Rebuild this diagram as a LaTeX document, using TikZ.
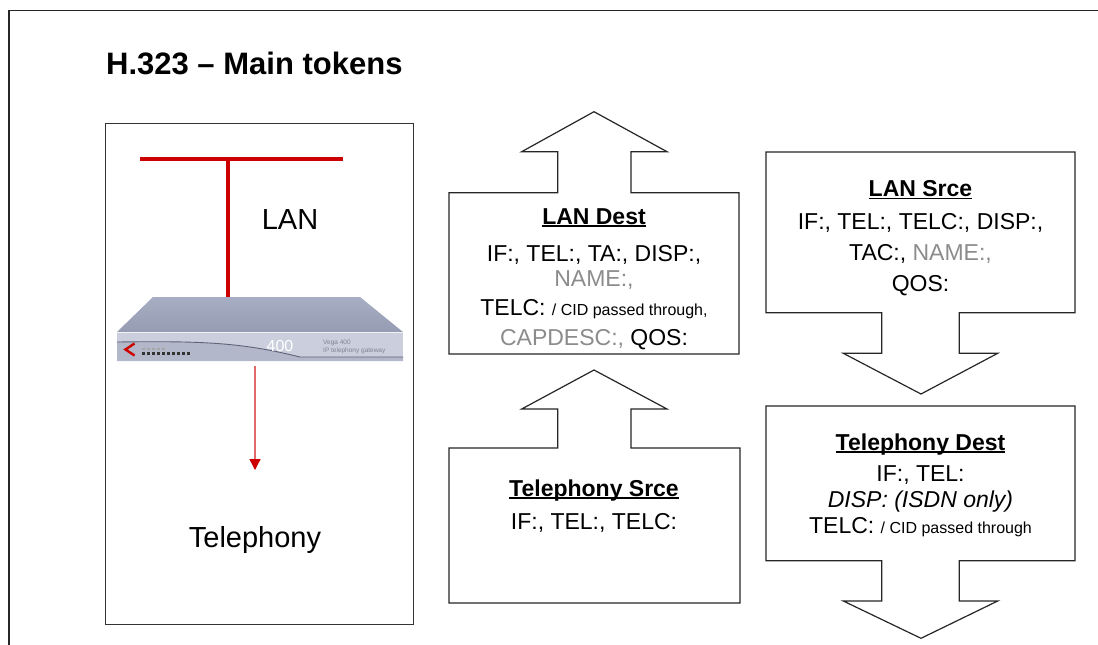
\documentclass[tikz,border=0pt]{standalone}
\usepackage{fontspec}
\setmainfont{Liberation Sans}
\usetikzlibrary{arrows.meta}
\definecolor{tokgray}{HTML}{8C8C8C}
\definecolor{lanred}{HTML}{CC0000}
\definecolor{lightred}{HTML}{E06A6A}
\definecolor{devtop}{HTML}{A7ADC2}
\definecolor{devtopd}{HTML}{969CB3}
\definecolor{devfront}{HTML}{CBCFDD}
\definecolor{devdark}{HTML}{5E6378}
\newcommand\hdul[1]{{\setbox0\hbox{\bfseries #1}\rlap{\rule[-2.6pt]{\wd0}{1.7pt}}\box0}}
\newcommand\smtxt[1]{{\fontsize{16}{18}\selectfont #1}}
\newcommand\gtxt[1]{\textcolor{tokgray}{#1}}
\tikzset{
  tok/.style={font=\fontsize{23}{28}\selectfont, anchor=base, inner sep=0pt},
  bigl/.style={font=\fontsize{29}{34}\selectfont, anchor=base, inner sep=0pt},
  blockarrow/.style={draw=black!85, line width=1.2pt, line join=miter, fill=white},
}
\begin{document}
\begin{tikzpicture}[x=1pt,y=-1pt]
\useasboundingbox (0,0) rectangle (1098,645);
\fill[white] (0,0) rectangle (1098,645);
% outer frame (top and left)
\draw[line width=1.6pt, black!85] (9,645) -- (9,10.5) -- (1098,10.5);
% title
\node[anchor=base west, inner sep=0pt, font=\fontsize{31}{36}\selectfont\bfseries] (title) at (106,74) {H.323 – Main tokens};

% left panel
\draw[line width=1pt, black!80] (105,123) rectangle (413,624);
\draw[lanred, line width=4pt] (140,159.3) -- (343,159.3);
\draw[lanred, line width=4pt] (228.3,159.3) -- (228.3,297);
\node[bigl] (lan) at (290,229.5) {LAN};
\node[bigl] (tel) at (255,547.5) {Telephony};

% device
\shade[top color=devtop, bottom color=devtopd] (153,297) -- (360,297) -- (403,332) -- (117,332) -- cycle;
\fill[devfront] (117,332) -- (403,332) -- (403,361) -- (117,361) -- cycle;
\fill[devtop!70!devfront] (117,342) .. controls (200,341) and (240,342) .. (300,357) -- (403,357) -- (403,361) -- (117,361) -- cycle;
\draw[devdark, line width=0.9pt] (117,342) .. controls (200,341) and (240,342) .. (300,357) -- (403,357);
\draw[white!85!devtop, line width=0.8pt] (117,332) -- (403,332);
\node[inner sep=0pt, text=white, font=\fontsize{16}{18}\selectfont] (d400) at (280,346) {400};
\node[anchor=base west, inner sep=0pt, text=devdark!80, font=\fontsize{6.5}{7}\selectfont] (vega) at (323,344) {Vega 400};
\node[anchor=base west, inner sep=0pt, text=devdark!80, font=\fontsize{6.5}{7}\selectfont] (ipgw) at (323,352) {IP telephony gateway};
\draw[lanred, line width=2.4pt] (134.5,343.5) -- (125.5,349.5) -- (134.5,355.5);
\foreach \i in {0,...,9} { \fill[black!80] (142+\i*5,352) rectangle (144.5+\i*5,354.5); }
\foreach \i in {0,...,4} { \fill[black!35] (142+\i*5,348) rectangle (144.5+\i*5,350); }
\coordinate (arrs) at (255,366);
\coordinate (arre) at (255,470);
\draw[lightred, line width=1.3pt, -{Triangle[width=11pt,length=11pt,color=lanred]}] (arrs) -- (arre);

% LAN Dest
\draw[blockarrow] (449,354) -- (449,192.7) -- (557.7,192.7) -- (557.7,151.7) -- (521.7,151.7) -- (594,111.7) -- (667,151.7) -- (631,151.7) -- (631,192.7) -- (739,192.7) -- (739,354) -- cycle;
\node[tok] (ld1) at (594,224) {\hdul{LAN Dest}};
\node[tok] (ld2) at (594,261.7) {IF:, TEL:, TA:, DISP:,};
\node[tok] (ld3) at (594,286.7) {\gtxt{NAME:,}};
\node[tok] (ld4) at (594,315) {TELC: \smtxt{/ CID passed through,}};
\node[tok] (ld5) at (594,345) {\gtxt{CAPDESC:,} QOS:};

% Telephony Srce
\draw[blockarrow] (449,603) -- (449,448) -- (557.7,448) -- (557.7,409) -- (521.7,409) -- (594,370) -- (667,409) -- (631,409) -- (631,448) -- (740,448) -- (740,603) -- cycle;
\node[tok] (ts1) at (594,496) {\hdul{Telephony Srce}};
\node[tok] (ts2) at (594,529.3) {IF:, TEL:, TELC:};

% LAN Srce
\draw[blockarrow] (766,152) -- (1075,152) -- (1075,312.7) -- (959.3,312.7) -- (959.3,353.3) -- (997.7,353.3) -- (921,394) -- (843.3,353.3) -- (881.7,353.3) -- (881.7,312.7) -- (766,312.7) -- cycle;
\node[tok] (ls1) at (920.5,196.7) {\hdul{LAN Srce}};
\node[tok] (ls2) at (920.5,229.3) {IF:, TEL:, TELC:, DISP:,};
\node[tok] (ls3) at (920.5,260.7) {TAC:, \gtxt{NAME:,}};
\node[tok] (ls4) at (920.5,291.7) {QOS:};

% Telephony Dest
\draw[blockarrow] (766,406) -- (1075,406) -- (1075,560.7) -- (959.3,560.7) -- (959.3,601) -- (997.7,601) -- (921,638.3) -- (843.3,601) -- (881.7,601) -- (881.7,560.7) -- (766,560.7) -- cycle;
\node[tok] (td1) at (920.5,450) {\hdul{Telephony Dest}};
\node[tok] (td2) at (920.5,481.7) {IF:, TEL:};
\node[tok] (td3) at (920.5,507) {\itshape DISP: (ISDN only)};
\node[tok] (td4) at (920.5,533.3) {TELC: \smtxt{/ CID passed through}};
\end{tikzpicture}
\end{document}
